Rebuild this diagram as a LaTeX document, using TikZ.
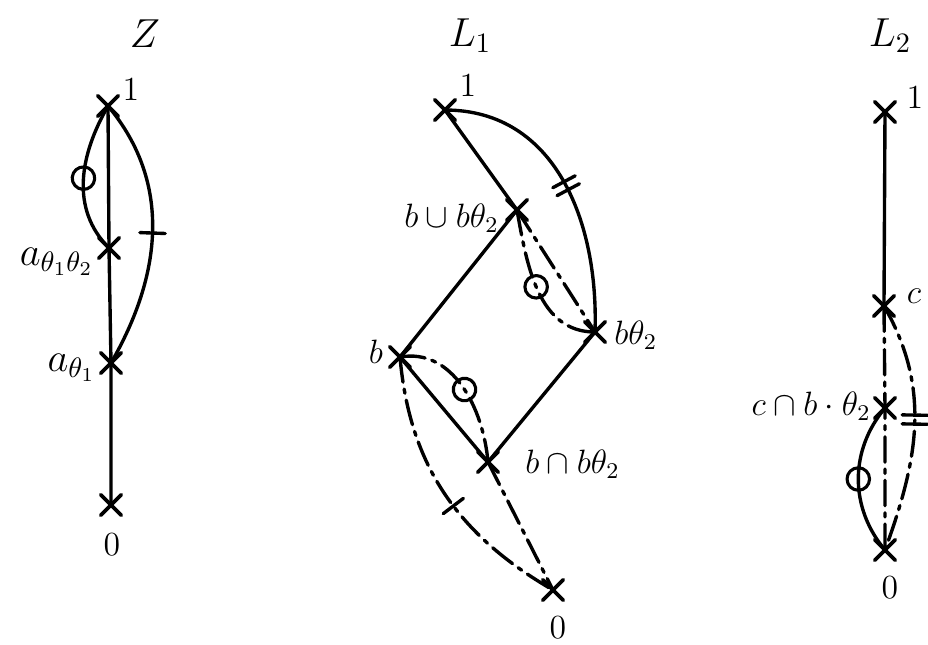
\documentclass[tikz,border=0pt]{standalone}
\usetikzlibrary{shapes.misc, decorations.markings}

\begin{document}
\begin{tikzpicture}[x=0.0125cm, y=-0.0125cm, line cap=round, line join=round,
    pt/.style={cross out, draw, line width=1.3pt, minimum size=6pt, inner sep=0pt},
    hasse/.style={line width=1.2pt},
    congr/.style={line width=1.2pt, dash pattern=on 9pt off 2.5pt on 1.5pt off 2.5pt},
    lbl/.style={font=\large, inner sep=1pt},
    ttl/.style={font=\Large},
    onetick/.style={postaction={decorate}, decoration={markings,
        mark=at position #1 with {\draw[solid, line width=1.2pt] (0,-4.5pt) -- (0,4.5pt);}}},
    onetick/.default=0.5,
    twotick/.style={postaction={decorate}, decoration={markings,
        mark=at position #1 with {\draw[solid, line width=1.2pt]
            (-1.6pt,-4.5pt) -- (-1.6pt,4.5pt) (1.6pt,-4.5pt) -- (1.6pt,4.5pt);}}},
    twotick/.default=0.5,
    ringmark/.style={postaction={decorate}, decoration={markings,
        mark=at position #1 with {\draw[solid, line width=1.1pt] (0,0) circle (4pt);}}},
    ringmark/.default=0.5]

    % ── Frame (units are pixels of a 928 x 644 sheet, y grows down) ──────────
    \useasboundingbox (0,0) rectangle (928,644);

    % ── Lattice Z ─────────────────────────────────────────────────────────────
    \node[ttl] (ztitle) at (145,34) {$Z$};

    \node[pt] (ztop) at (108,106) {};
    \node[pt] (zab)  at (109,248) {};
    \node[pt] (za)   at (111,363) {};
    \node[pt] (zz)   at (111,505) {};

    \node[lbl] (ztopl) at (131,90) {$1$};
    \node[lbl, font=\Large, anchor=east] (zabl) at (97,262) {$a_{\theta_1\theta_2}$};
    \node[lbl, font=\Large, anchor=east] (zal)  at (99,368) {$a_{\theta_1}$};
    \node[lbl] (zzl) at (112,545) {$0$};

    \draw[hasse] (ztop.center) -- (zab.center) -- (za.center) -- (zz.center);

    % theta_1 theta_2 block on the left, theta_1 block on the right
    \draw[hasse, ringmark] (ztop.center) to[out=-120, in=135] (zab.center);
    \draw[hasse, onetick]  (ztop.center) to[out=-50, in=60] (za.center);

    % ── Lattice L_1 ───────────────────────────────────────────────────────────
    \node[ttl] (mtitle) at (470,36) {$L_1$};

    \node[pt] (mtop) at (445,110) {};
    \node[pt] (mu)   at (517,210) {};
    \node[pt] (mbt)  at (595,332) {};
    \node[pt] (mb)   at (400,357) {};
    \node[pt] (mi)   at (488,462) {};
    \node[pt] (mz)   at (553,590) {};

    \node[lbl] (mtopl) at (468,86) {$1$};
    \node[lbl, anchor=east] (mul)  at (502,218) {$b\cup b\theta_2$};
    \node[lbl, anchor=west] (mbtl) at (611,335) {$b\theta_2$};
    \node[lbl] (mbl) at (376,352) {$b$};
    \node[lbl, anchor=west] (mil)  at (522,464) {$b\cap b\theta_2$};
    \node[lbl] (mzl) at (558,628) {$0$};

    % diamond and chains
    \draw[hasse] (mtop.center) -- (mu.center);
    \draw[congr] (mu.center) -- (mbt.center);
    \draw[hasse] (mu.center) -- (mb.center);
    \draw[hasse] (mbt.center) -- (mi.center);
    \draw[hasse] (mb.center) -- (mi.center);
    \draw[congr] (mi.center) -- (mz.center);

    % blocks
    \draw[hasse, twotick] (mtop.center) to[out=0, in=88, looseness=1.05] (mbt.center);
    \draw[congr, ringmark] (mu.center) to[out=-80, in=180] (mbt.center);
    \draw[congr, ringmark] (mb.center) to[out=10, in=95] (mi.center);
    \draw[congr, onetick=0.55] (mb.center) to[out=-85, in=150] (mz.center);

    % ── Lattice L_2 ───────────────────────────────────────────────────────────
    \node[ttl] (rtitle) at (890,36) {$L_2$};

    \node[pt] (rtop) at (885,112) {};
    \node[pt] (rc)   at (884,306) {};
    \node[pt] (rcb)  at (885,408) {};
    \node[pt] (rz)   at (885,550) {};

    \node[lbl] (rtopl) at (915,98) {$1$};
    \node[lbl] (rcl)   at (914,296) {$c$};
    \node[lbl, anchor=east] (rcbl) at (874,406) {$c\cap b\cdot\theta_2$};
    \node[lbl] (rzl) at (890,588) {$0$};

    \draw[hasse] (rtop.center) -- (rc.center);
    \draw[congr] (rc.center) -- (rcb.center) -- (rz.center);

    \draw[congr, twotick=0.47] (rc.center) to[out=-60, in=70] (rz.center);
    \draw[hasse, ringmark] (rcb.center) to[bend right=40] (rz.center);

\end{tikzpicture}
\end{document}
